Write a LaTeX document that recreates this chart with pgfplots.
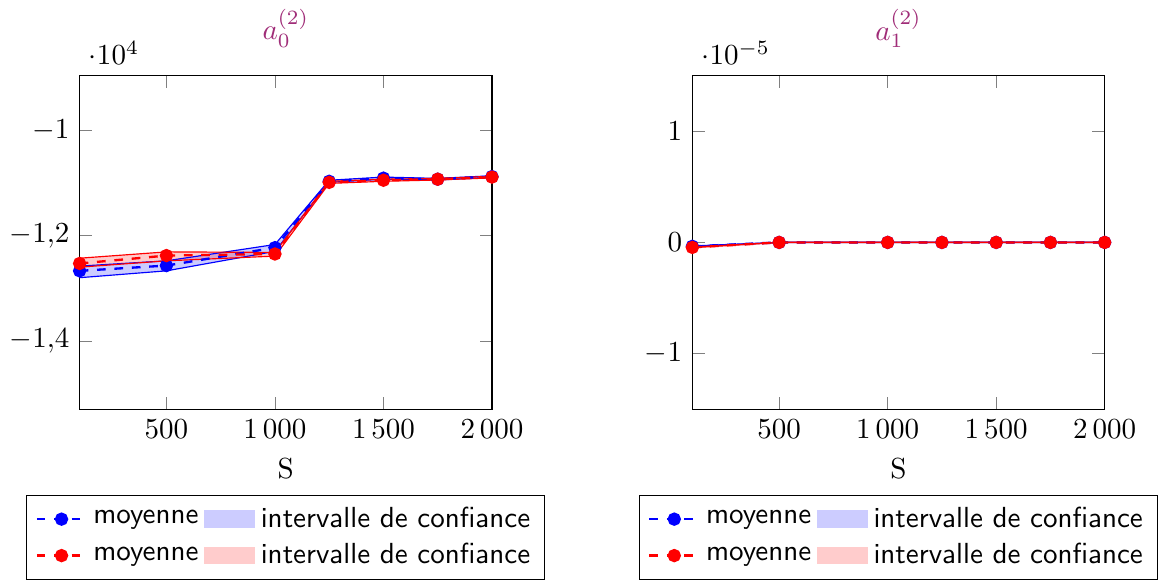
\documentclass[border=0pt]{standalone}
\usepackage{pgfplots}
\pgfplotsset{compat=1.18}
\usepgfplotslibrary{fillbetween}
\definecolor{titlecol}{RGB}{160,45,120}

\pgfplotsset{
  bandplot/.style={
    scale only axis, width=142pt, height=115pt,
    xmin=100, xmax=2000,
    xtick={500,1000,1500,2000},
    xlabel={S},
    /pgf/number format/use comma,
    /pgf/number format/1000 sep={\,},
    legend columns=2,
    legend style={at={(0.5,-0.255)}, anchor=north, font=\sffamily,
      /tikz/every even column/.append style={column sep=0pt}},
    title style={text=titlecol},
  },
  moy/.style={#1, dashed, thick, mark=*, mark size=1.9pt, mark options={solid}},
  bord/.style={#1, thin},
}

\begin{document}
\begin{tikzpicture}
% ---- gauche : a0
\begin{axis}[bandplot, name=g,
    title={$a_0^{(2)}$},
    ymin=-15300, ymax=-8960,
    ytick={-14000,-12000,-10000}]
\addlegendimage{moy=blue}
\addlegendentry{moyenne}
\addlegendimage{area legend, draw=blue!20, fill=blue!20}
\addlegendentry{intervalle de confiance}
\addlegendimage{moy=red}
\addlegendentry{moyenne}
\addlegendimage{area legend, draw=red!20, fill=red!20}
\addlegendentry{intervalle de confiance}

\addplot[bord=blue, name path=bh, forget plot] coordinates {
(100,-12580)(500,-12480)(1000,-12170)(1250,-10950)(1500,-10890)(1750,-10915)(2000,-10865)};
\addplot[bord=blue, name path=bb, forget plot] coordinates {
(100,-12800)(500,-12670)(1000,-12300)(1250,-10990)(1500,-10930)(1750,-10945)(2000,-10895)};
\addplot[blue, fill opacity=0.2, draw=none, forget plot] fill between[of=bh and bb];

\addplot[bord=red, name path=rh, forget plot] coordinates {
(100,-12430)(500,-12310)(1000,-12320)(1250,-10970)(1500,-10930)(1750,-10915)(2000,-10875)};
\addplot[bord=red, name path=rb, forget plot] coordinates {
(100,-12600)(500,-12480)(1000,-12390)(1250,-11010)(1500,-10970)(1750,-10945)(2000,-10905)};
\addplot[red, fill opacity=0.2, draw=none, forget plot] fill between[of=rh and rb];

\addplot[moy=blue, forget plot] coordinates {
(100,-12670)(500,-12570)(1000,-12230)(1250,-10970)(1500,-10910)(1750,-10930)(2000,-10880)};
\addplot[moy=red, forget plot] coordinates {
(100,-12530)(500,-12380)(1000,-12350)(1250,-10990)(1500,-10950)(1750,-10930)(2000,-10890)};
\end{axis}

% ---- droite : a1
\begin{axis}[bandplot, at={(211pt,0)},
    title={$a_1^{(2)}$},
    ymin=-1.5e-5, ymax=1.5e-5,
    ytick={-1e-5,0,1e-5}]
\addlegendimage{moy=blue}
\addlegendentry{moyenne}
\addlegendimage{area legend, draw=blue!20, fill=blue!20}
\addlegendentry{intervalle de confiance}
\addlegendimage{moy=red}
\addlegendentry{moyenne}
\addlegendimage{area legend, draw=red!20, fill=red!20}
\addlegendentry{intervalle de confiance}

\addplot[bord=blue, name path=bh, forget plot] coordinates {
(100,-3.2e-7)(500,1e-8)(1000,1e-8)(1250,1e-8)(1500,1e-8)(1750,1e-8)(2000,1e-8)};
\addplot[bord=blue, name path=bb, forget plot] coordinates {
(100,-3.8e-7)(500,-1e-8)(1000,-1e-8)(1250,-1e-8)(1500,-1e-8)(1750,-1e-8)(2000,-1e-8)};
\addplot[blue, fill opacity=0.2, draw=none, forget plot] fill between[of=bh and bb];

\addplot[bord=red, name path=rh, forget plot] coordinates {
(100,-4.2e-7)(500,1e-8)(1000,1e-8)(1250,1e-8)(1500,1e-8)(1750,1e-8)(2000,1e-8)};
\addplot[bord=red, name path=rb, forget plot] coordinates {
(100,-4.8e-7)(500,-1e-8)(1000,-1e-8)(1250,-1e-8)(1500,-1e-8)(1750,-1e-8)(2000,-1e-8)};
\addplot[red, fill opacity=0.2, draw=none, forget plot] fill between[of=rh and rb];

\addplot[moy=blue, forget plot] coordinates {
(100,-3.5e-7)(500,0)(1000,0)(1250,0)(1500,0)(1750,0)(2000,0)};
\addplot[moy=red, forget plot] coordinates {
(100,-4.5e-7)(500,0)(1000,0)(1250,0)(1500,0)(1750,0)(2000,0)};
\end{axis}
\end{tikzpicture}
\end{document}
